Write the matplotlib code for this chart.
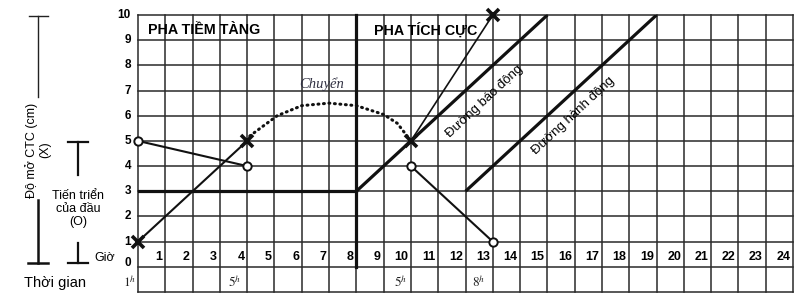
import numpy as np
import matplotlib
matplotlib.use("Agg")
import matplotlib.pyplot as plt

plt.rcParams['font.family'] = ['Liberation Sans', 'DejaVu Sans']
plt.rcParams['mathtext.fontset'] = 'stix'

# --- data ---
hours = list(range(1, 25))
dilation_ticks = list(range(0, 11))

latent_x_hours = [0, 4]
latent_x_cm = [1, 5]
latent_o_hours = [0, 4]
latent_o_cm = [5, 4]

active_x_hours = [10, 13]
active_x_cm = [5, 10]
active_o_hours = [10, 13]
active_o_cm = [4, 1]

# transfer arc (dotted)
transfer_hours = [4, 4.1, 5.1, 6, 7, 8, 9, 9.5, 10]
transfer_cm = [5, 5.2, 6.0, 6.4, 6.5, 6.4, 6.05, 5.7, 5]

latent_limit_hours = [0, 8]
latent_limit_cm = [3, 3]
alert_hours = [8, 15]
alert_cm = [3, 10]
action_hours = [12, 19]
action_cm = [3, 10]

time_marks = ['1', '5', '5', '8']
time_mark_pos = [-0.29, 3.55, 9.63, 12.49]

fig = plt.figure(figsize=(8, 2.97), dpi=100)

# overlay axes in pixel units for the left-hand annotations
ov = fig.add_axes([0, 0, 1, 1])
ov.set_xlim(0, 800)
ov.set_ylim(297, 0)
ov.axis('off')

ax = fig.add_axes([138 / 800, 5 / 297, 655 / 800, 277 / 297])
ax.set_xlim(0, 24)
ax.set_ylim(-1, 10)
ax.axis('off')

grid_c = '#2a2a2a'
for x in range(0, 25):
    ax.plot([x, x], [-1, 10], color=grid_c, lw=1.1, clip_on=False, zorder=1)
for y in range(-1, 11):
    ax.plot([0, 24], [y, y], color=grid_c, lw=1.1, clip_on=False, zorder=1)

# thick phase separators
ax.plot([8, 8], [0, 10], color='#111111', lw=2.3, clip_on=False, zorder=2)
ax.plot(latent_limit_hours, latent_limit_cm, color='#111111', lw=2.3, zorder=2)
ax.plot(alert_hours, alert_cm, color='#111111', lw=2.3, zorder=2, solid_capstyle='butt')
ax.plot(action_hours, action_cm, color='#111111', lw=2.3, zorder=2, solid_capstyle='butt')

# progress lines
ax.plot(latent_x_hours, latent_x_cm, color='#111111', lw=1.5, zorder=3)
ax.plot(latent_o_hours, latent_o_cm, color='#111111', lw=1.5, zorder=3)
ax.plot(active_x_hours, active_x_cm, color='#111111', lw=1.2, zorder=3)
ax.plot(active_o_hours, active_o_cm, color='#111111', lw=1.5, zorder=3)

ax.plot(transfer_hours, transfer_cm, color='#111111', lw=2.2,
        linestyle=(0, (0.3, 1.5)), dash_capstyle='round', zorder=3)

# markers
ax.plot(latent_x_hours + active_x_hours, latent_x_cm + active_x_cm, 'x',
        color='#111111', ms=9, mew=2.6, clip_on=False, zorder=5)
ax.plot(latent_o_hours + active_o_hours, latent_o_cm + active_o_cm, 'o',
        color='#111111', mfc='white', ms=6, mew=1.4, clip_on=False, zorder=5)

# phase titles
ax.text(0.37, 9.4, 'PHA TIỀM TÀNG', fontsize=10.3, fontweight='bold',
        ha='left', va='center', zorder=4)
ax.text(8.64, 9.4, 'PHA TÍCH CỰC', fontsize=10.3, fontweight='bold',
        ha='left', va='center', zorder=4)

ax.text(6.74, 7.25, 'Chuyển', fontsize=10.5, fontstyle='italic',
        family='Liberation Serif', color='#333344', ha='center', va='center')

ax.text(12.7, 6.55, 'Đường báo động', fontsize=9.5, rotation=43,
        rotation_mode='anchor', ha='center', va='center', zorder=4)
ax.text(15.95, 6.0, 'Đường hành động', fontsize=9.5, rotation=43,
        rotation_mode='anchor', ha='center', va='center', zorder=4)

# hour numbers and dilation ticks
for h in hours:
    ax.text(h - 0.1, 0.4, str(h), fontsize=9, fontweight='bold',
            ha='right', va='center')
for d in dilation_ticks:
    ax.text(-0.26, d + (0.15 if d == 0 else 0), str(d), fontsize=8.5,
            fontweight='bold', ha='right', va='center', clip_on=False)

for lab, pos in zip(time_marks, time_mark_pos):
    ax.text(pos, -0.6, r'$\mathit{%s}^{\mathit{h}}$' % lab, fontsize=9.5,
            ha='center', va='center', clip_on=False, color='#222222')

# left annotations
lc = '#222222'
ov.plot([38, 38], [16, 97], color=lc, lw=1.0)
ov.plot([29, 48], [16, 16], color=lc, lw=1.0)
ov.plot([38, 38], [200, 263], color='#111111', lw=1.8)
ov.plot([28, 48], [263, 263], color='#111111', lw=1.8)
ov.text(38, 150, 'Độ mở CTC (cm)\n(X)', fontsize=9, rotation=90,
        ha='center', va='center', multialignment='center', linespacing=1.1)

ov.plot([78, 78], [142, 175], color='#111111', lw=1.6)
ov.plot([68, 88], [142, 142], color='#111111', lw=1.6)
ov.plot([78, 78], [243, 263], color='#111111', lw=1.6)
ov.plot([68, 88], [263, 263], color='#111111', lw=1.6)
ov.text(78, 209, 'Tiến triển\ncủa đầu\n(O)', fontsize=9, ha='center',
        va='center', multialignment='center', linespacing=1.15)
ov.text(94, 258, 'Giờ', fontsize=9, ha='left', va='center')
ov.text(24, 283, 'Thời gian', fontsize=10.5, ha='left', va='center')

fig.savefig('out.png', dpi=100)
